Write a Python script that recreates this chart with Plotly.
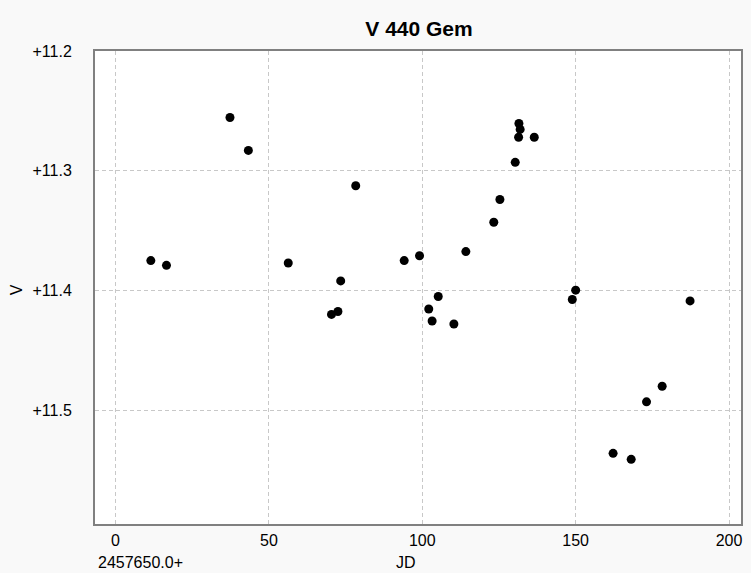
import plotly.graph_objects as go

# Observations of V 440 Gem: days after JD 2457650.0 and V magnitude
jd_offset = [11.5, 16.6, 37.3, 43.3, 56.3, 70.4, 72.5, 73.4, 78.3, 94.1,
             99.1, 102.1, 103.2, 105.2, 110.3, 114.2, 123.3, 125.3, 130.3, 131.5,
             131.9, 131.4, 136.5, 148.9, 150.0, 162.2, 168.1, 173.1, 178.2, 187.3]
v_mag = [11.375, 11.379, 11.2555, 11.283, 11.377, 11.420, 11.4175, 11.392, 11.3125, 11.375,
         11.371, 11.4155, 11.4255, 11.405, 11.428, 11.3675, 11.343, 11.324, 11.293, 11.2605,
         11.2655, 11.272, 11.272, 11.4075, 11.3997, 11.536, 11.541, 11.493, 11.480, 11.4087]

x_ticks = [0, 50, 100, 150, 200]
y_ticks = [11.2, 11.3, 11.4, 11.5]
y_tick_text = ["+11.2", "+11.3", "+11.4", "+11.5"]

W, H = 751, 573
ML, MR, MT, MB = 95, 8, 51, 49
FONT = "Liberation Sans, Arial, sans-serif"

fig = go.Figure(go.Scatter(
    x=jd_offset, y=v_mag, mode="markers",
    marker=dict(color="black", size=9, line=dict(width=0)),
    hoverinfo="x+y",
))

axis_common = dict(
    showline=True, mirror=True, linecolor="#808080", linewidth=2,
    showgrid=True, gridcolor="#c8c8c8", gridwidth=1, griddash="4px,3px",
    zeroline=False, ticks="",
    tickfont=dict(family=FONT, size=16, color="#000000"),
)

fig.update_xaxes(range=[-6.7, 203.9], tickvals=x_ticks, ticklabelstandoff=1, **axis_common)
fig.update_yaxes(range=[11.595, 11.2], tickvals=y_ticks, ticktext=y_tick_text,
                 ticklabelstandoff=18, **axis_common)

pw = W - ML - MR
ph = H - MT - MB

def px_x(p):
    return (p - ML) / pw

def px_y(p):
    return 1 - (p - MT) / ph

fig.update_layout(
    width=W, height=H,
    margin=dict(l=ML, r=MR, t=MT, b=MB),
    paper_bgcolor="#f9f9f9", plot_bgcolor="#ffffff",
    showlegend=False,
    title=dict(text="<b>V 440 Gem</b>", x=419 / W, xanchor="center",
               y=1 - 29 / H, yanchor="middle",
               font=dict(family=FONT, size=21, color="#000000")),
    annotations=[
        dict(text="V", xref="paper", yref="paper", x=px_x(16), y=px_y(290),
             xanchor="center", yanchor="middle", textangle=-90, showarrow=False,
             font=dict(family=FONT, size=16, color="#000000")),
        dict(text="2457650.0+", xref="paper", yref="paper", x=px_x(96), y=px_y(562),
             xanchor="left", yanchor="middle", showarrow=False,
             font=dict(family=FONT, size=16, color="#000000")),
        dict(text="JD", xref="paper", yref="paper", x=px_x(407), y=px_y(562),
             xanchor="center", yanchor="middle", showarrow=False,
             font=dict(family=FONT, size=16, color="#000000")),
    ],
)

fig.write_html("out.html")
